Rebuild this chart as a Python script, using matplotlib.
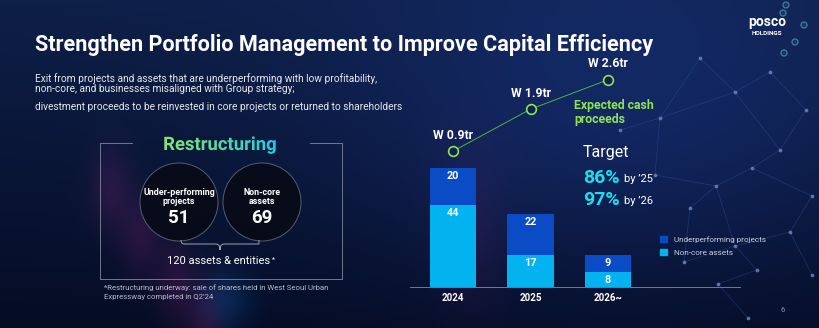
import numpy as np
import matplotlib
matplotlib.use("Agg")
import matplotlib.pyplot as plt
from matplotlib.patches import Circle, PathPatch, Patch
from matplotlib.path import Path
from matplotlib.textpath import TextPath
from matplotlib.font_manager import FontProperties
from matplotlib.transforms import Affine2D

plt.rcParams["font.family"] = ["Roboto", "DejaVu Sans"]

# ---------------------------------------------------------------
#   DATA
# ---------------------------------------------------------------
YEARS = ["2024", "2025", "2026~"]
UNDERPERFORMING = [20, 22, 9]
NON_CORE = [44, 17, 8]
CASH_PROCEEDS = [0.9, 1.9, 2.6]          # KRW trillion
CASH_LABELS = ["W 0.9tr", "W 1.9tr", "W 2.6tr"]

UNDER_TOTAL = 51
NONCORE_TOTAL = 69
TARGETS = [("86%", "by \u201925"), ("97%", "by \u201926")]

SERIES_NAMES = ["Underperforming projects", "Non-core assets"]

# colours
C_UNDER = "#0a4bc6"
C_NONCORE = "#03b3ef"
C_LINE = "#55b043"
C_GREEN = "#8ee353"
C_CYAN = "#19dfee"
C_TEXT = "#e6e9f0"

# decorative network on the right side (pixel coords)
NET_NODES = [(700, 58), (735, 92), (770, 72), (806, 110), (780, 150),
             (716, 186), (752, 168), (812, 196), (735, 246), (790, 232),
             (684, 262), (757, 270), (718, 284), (748, 318), (660, 118),
             (812, 275), (690, 208), (620, 130), (655, 175)]
NET_EDGES = [(0, 1), (1, 2), (2, 3), (1, 4), (3, 4), (4, 6), (5, 6), (6, 7),
             (5, 8), (8, 9), (7, 9), (8, 10), (8, 11), (11, 12), (12, 13),
             (9, 15), (14, 1), (16, 5), (16, 10), (0, 14), (17, 14),
             (18, 5), (18, 14)]
LOGO_RINGS = [(786, 5), (783, 13), (804, 25), (795, 42), (784, 53)]

W, H = 820, 328
fig = plt.figure(figsize=(W / 100, H / 100), dpi=100)

# ---------------------------------------------------------------
#   BACKGROUND
# ---------------------------------------------------------------
bg = fig.add_axes([0, 0, 1, 1], zorder=0)
bg.set_axis_off()

yy, xx = np.mgrid[0:H, 0:W]
t = (yy / H)[..., None]
top = np.array([14, 31, 72]) / 255
bot = np.array([5, 12, 36]) / 255
img = top * (1 - t) + bot * t


def glow(cx, cy, sx, sy, col, amp):
    g = np.exp(-(((xx - cx) / sx) ** 2 + ((yy - cy) / sy) ** 2) / 2)
    return g[..., None] * np.array(col) * amp


img += glow(620, 120, 200, 120, (0.05, 0.10, 0.25), 0.6)
for cx, cy in [(110, 190), (140, 235), (175, 280), (205, 320)]:
    img += glow(cx, cy, 14, 28, (0.40, 0.05, 0.22), 0.30)
img += glow(225, 300, 18, 22, (0.0, 0.30, 0.50), 0.30)
img += glow(470, 230, 25, 60, (0.28, 0.04, 0.18), 0.22)
img = np.clip(img, 0, 1)
bg.imshow(img, extent=(0, W, H, 0), aspect="auto", zorder=0)

for a, b in NET_EDGES:
    (x1, y1), (x2, y2) = NET_NODES[a], NET_NODES[b]
    bg.plot([x1, x2], [y1, y2], color="#34509e", lw=0.5, alpha=0.5, zorder=1)
bg.scatter([p[0] for p in NET_NODES], [p[1] for p in NET_NODES],
           s=3, color="#6f88c4", alpha=0.7, zorder=1)
for cx, cy in LOGO_RINGS:
    bg.add_patch(Circle((cx, cy), 3.0, fc="#1a3461", ec="#3f7fa0", lw=0.9, zorder=1))

# ---------------------------------------------------------------
#   HEADER TEXT
# ---------------------------------------------------------------
bg.text(35, 51, "Strengthen Portfolio Management to Improve Capital Efficiency",
        color="white", fontsize=15.6, fontweight="bold", va="baseline")
bg.text(35, 79, "Exit from projects and assets that are underperforming with low profitability,",
        color=C_TEXT, fontsize=7.25, va="center")
bg.text(35, 88.5, "non-core, and businesses misaligned with Group strategy;",
        color=C_TEXT, fontsize=7.25, va="center")
bg.text(35, 107, "divestment proceeds to be reinvested in core projects or returned to shareholders",
        color=C_TEXT, fontsize=7.25, va="center")

bg.text(767, 26, "posco", color="white", fontsize=10, fontweight="bold",
        ha="center", va="baseline")
bg.text(767, 35, "HOLDINGS", color="white", fontsize=4.6, fontweight="bold",
        ha="center", va="baseline")
bg.text(783, 310, "6", color="#8a97b0", fontsize=5.5, ha="center", va="center")

# ---------------------------------------------------------------
#   RESTRUCTURING PANEL
# ---------------------------------------------------------------
box_c = "#7f889c"
bg.plot([132, 100, 100, 342, 342, 310], [143, 143, 279, 279, 143, 143],
        color=box_c, lw=0.6, zorder=2)

# gradient title
fp = FontProperties(family="Roboto", weight="bold")
tp = TextPath((0, 0), "Restructuring", size=18.5, prop=fp)
ext = tp.get_extents()
tr = (Affine2D().translate(-(ext.x0 + ext.x1) / 2, 0).scale(1, -1)
      .translate(220, 150) + bg.transData)
clip = PathPatch(tp, transform=tr, fc="none", ec="none")
bg.add_patch(clip)
grad = np.linspace(0, 1, 200)[None, :, None]
g0 = np.array([0.55, 0.90, 0.40])
g1 = np.array([0.10, 0.80, 0.90])
gimg = g0 * (1 - grad) + g1 * grad
gimg = np.repeat(gimg, 4, axis=0)
gi = bg.imshow(gimg, extent=(158, 284, 156, 132), aspect="auto", zorder=3)
gi.set_clip_path(clip)

circles = [(179, "Under-performing\nprojects", UNDER_TOTAL),
           (262, "Non-core\nassets", NONCORE_TOTAL)]
for cx, label, val in circles:
    bg.add_patch(Circle((cx, 202), 39, fc="#070b18", ec="#5b6274",
                        lw=0.7, alpha=0.93, zorder=3))
    bg.text(cx, 197, label, color="white", fontsize=6.4, fontweight="bold",
            ha="center", va="center", linespacing=1.1, zorder=4)
    bg.text(cx, 218, str(val), color="white", fontsize=13.5, fontweight="bold",
            ha="center", va="center", zorder=4)

# brace under the two circles
brace = Path([(181, 240), (181, 244), (184, 244), (184, 244),
              (216, 244), (220, 244), (220, 250), (220, 244),
              (224, 244), (256, 244), (259, 244), (259, 244), (259, 240)],
             [Path.MOVETO, Path.CURVE3, Path.CURVE3, Path.LINETO,
              Path.LINETO, Path.CURVE3, Path.CURVE3, Path.CURVE3,
              Path.CURVE3, Path.LINETO, Path.CURVE3, Path.CURVE3, Path.LINETO])
bg.add_patch(PathPatch(brace, fc="none", ec="#9aa2b4", lw=0.7, zorder=3))

tot = bg.text(219, 261, f"{UNDER_TOTAL + NONCORE_TOTAL} assets & entities",
              color="white", fontsize=8, ha="center", va="center", zorder=4)
bg.annotate("*", xy=(1, 0.95), xycoords=tot, xytext=(1, 0),
            textcoords="offset points", color="white", fontsize=5,
            va="top", ha="left")

bg.text(104, 288, "*Restructuring underway: sale of shares held in West Seoul Urban",
        color="#b4bccb", fontsize=5.6, va="center")
bg.text(104, 297, "Expressway completed in Q2\u201924",
        color="#b4bccb", fontsize=5.6, va="center")

# ---------------------------------------------------------------
#   RIGHT SIDE TEXT
# ---------------------------------------------------------------
bg.text(574, 106, "Expected cash", color=C_GREEN, fontsize=8.8,
        fontweight="bold", va="center")
bg.text(574, 120, "proceeds", color=C_GREEN, fontsize=8.8,
        fontweight="bold", va="center")
bg.text(583, 153, "Target", color="white", fontsize=11.5, va="center")
for (pct, by), y in zip(TARGETS, [178, 200]):
    p = bg.text(583, y, pct, color=C_CYAN, fontsize=14, fontweight="bold",
                va="center")
    bg.annotate(by, xy=(1, 0.5), xycoords=p, xytext=(3, -1),
                textcoords="offset points", color="white", fontsize=8,
                va="center", ha="left")

bg.set_xlim(0, W)
bg.set_ylim(H, 0)

# ---------------------------------------------------------------
#   BAR + LINE CHART
# ---------------------------------------------------------------
ax = fig.add_axes([410 / W, 41 / H, 330 / W, 227 / H], zorder=2)
ax.patch.set_alpha(0)
x = np.arange(len(YEARS))
bw = 0.594

ax.bar(x, NON_CORE, bw, color=C_NONCORE, zorder=2)
ax.bar(x, UNDERPERFORMING, bw, bottom=NON_CORE, color=C_UNDER, zorder=2)

for i in range(len(YEARS)):
    for top_v, v in [(NON_CORE[i], NON_CORE[i]),
                     (NON_CORE[i] + UNDERPERFORMING[i], UNDERPERFORMING[i])]:
        ax.annotate(str(v), xy=(x[i], top_v), xytext=(0, -5.5),
                    textcoords="offset points", ha="center", va="center",
                    color="white", fontsize=7.8, fontweight="bold", zorder=3)

ax.set_xlim(-0.555, 3.703)
ax.set_ylim(0, 122)
ax.set_xticks(x)
ax.set_xticklabels(YEARS, color="white", fontsize=7, fontweight="bold")
ax.tick_params(axis="x", length=0, pad=4)
ax.set_yticks([])
for s in ["top", "right", "left"]:
    ax.spines[s].set_visible(False)
ax.spines["bottom"].set_color("#6c7a98")
ax.spines["bottom"].set_linewidth(0.7)

ax.legend([Patch(color=C_UNDER), Patch(color=C_NONCORE)], SERIES_NAMES,
          loc="upper left", bbox_to_anchor=(653 / W, 1 - 229 / H),
          bbox_transform=fig.transFigure, frameon=False, fontsize=5.9,
          labelcolor="#c9d0de", handlelength=0.75, handleheight=0.75,
          handletextpad=0.9, labelspacing=0.7)

ax2 = ax.twinx()
ax2.set_ylim(-2.33, 3.07)
ax2.set_axis_off()
ax2.plot(x, CASH_PROCEEDS, color=C_LINE, lw=0.7, zorder=3)
ax2.plot(x, CASH_PROCEEDS, "o", ms=7, mfc="#111f52", mec=C_GREEN,
         mew=1.2, zorder=4)
for xi, v, lab in zip(x, CASH_PROCEEDS, CASH_LABELS):
    ax2.annotate(lab, xy=(xi, v), xytext=(0, 11.5), textcoords="offset points",
                 ha="center", va="center", color="white", fontsize=8.8,
                 fontweight="bold")

fig.savefig("out.png", dpi=100)
